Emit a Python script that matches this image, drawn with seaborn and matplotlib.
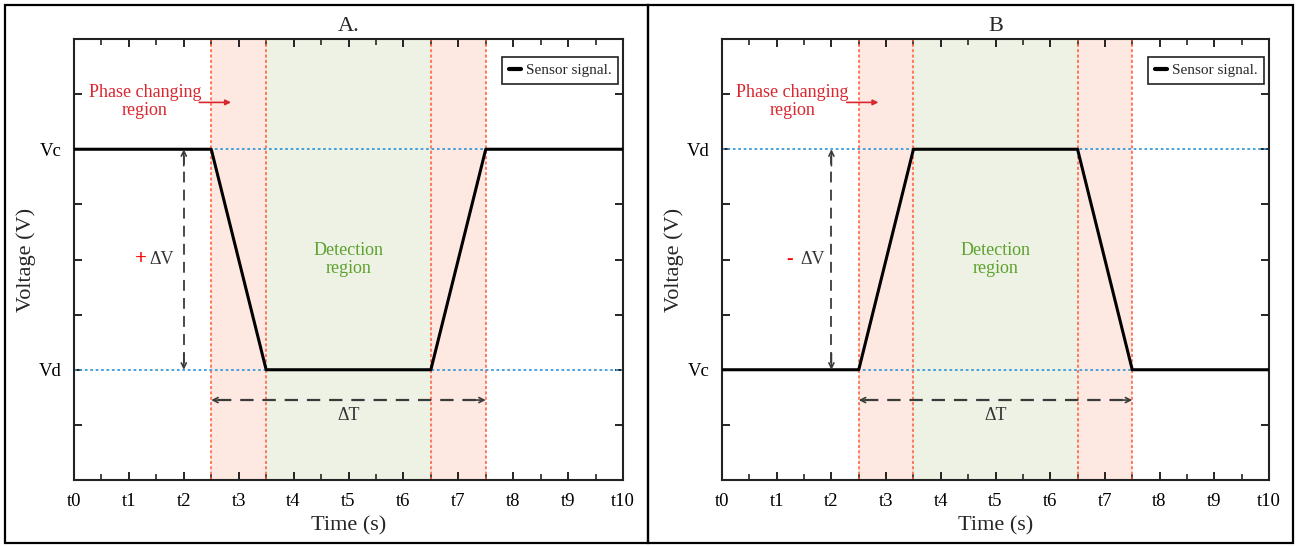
import numpy as np
import pandas as pd
import seaborn as sns
import matplotlib
matplotlib.use("Agg")
import matplotlib.pyplot as plt
from matplotlib.patches import Rectangle

# ---------------- data ----------------
time_pts = [0, 2.5, 3.5, 6.5, 7.5, 10]
voltage_A = [6, 6, 2, 2, 6, 6]
voltage_B = [2, 2, 6, 6, 2, 2]
x_tick_labels = ["t0", "t1", "t2", "t3", "t4", "t5", "t6", "t7", "t8", "t9", "t10"]
y_tick_labels_A = ["", "Vd", "", "", "", "Vc", ""]
y_tick_labels_B = ["", "Vc", "", "", "", "Vd", ""]
phase_regions = [(2.5, 3.5), (6.5, 7.5)]
detect_region = (3.5, 6.5)
v_high, v_low = 6, 2
titles = ["A.", "B"]
sign_labels = ["+", "-"]

sns.set_theme(style="white")
plt.rcParams["font.family"] = ["Liberation Serif", "DejaVu Serif"]

fig = plt.figure(figsize=(12.98, 5.46), dpi=100)
W, H = 1298, 546

# panel frames
for (x0, x1) in [(5, 648), (648, 1293)]:
    fig.patches.append(Rectangle((x0 / W, 1 - 543 / H), (x1 - x0) / W, (543 - 5) / H,
                                 transform=fig.transFigure, fill=False,
                                 edgecolor="black", linewidth=1.6, zorder=0))

axes_px = [(74, 623), (722, 1269)]
top_px, bot_px = 39, 480

red_fill = "#fde9e2"
green_fill = "#edf2e5"
red_line = "#ff5a36"
blue_dot = "#3b9bdc"
txt_red = "#d9262f"
txt_green = "#5da12f"
dash_col = "#3a3a3a"

for i, (l, r) in enumerate(axes_px):
    ax = fig.add_axes([l / W, 1 - bot_px / H, (r - l) / W, (bot_px - top_px) / H])
    volts = voltage_A if i == 0 else voltage_B
    df = pd.DataFrame({"Time": time_pts, "Voltage": volts})

    # shaded regions
    for (a, b) in phase_regions:
        ax.axvspan(a, b, color=red_fill, lw=0, zorder=0)
    ax.axvspan(detect_region[0], detect_region[1], color=green_fill, lw=0, zorder=0)
    for xv in [2.5, 3.5, 6.5, 7.5]:
        ax.axvline(xv, color=red_line, lw=1.1, ls=(0, (2, 1.5)), zorder=1)

    # reference dotted lines
    ax.axhline(v_high, color=blue_dot, lw=1.3, ls=(0, (1.5, 1.5)), zorder=1)
    ax.axhline(v_low, color=blue_dot, lw=1.3, ls=(0, (1.5, 1.5)), zorder=1)

    sns.lineplot(data=df, x="Time", y="Voltage", ax=ax, color="black", lw=2.2,
                 label="Sensor signal.", zorder=3, sort=False)

    ax.set_xlim(0, 10)
    ax.set_ylim(0, 8)
    ax.set_xticks(range(11))
    ax.set_xticklabels(x_tick_labels)
    ax.set_xticks(np.arange(0.5, 10, 1), minor=True)
    ax.set_yticks(range(1, 8))
    ax.set_yticklabels(y_tick_labels_A if i == 0 else y_tick_labels_B)
    ax.tick_params(axis="both", which="major", direction="in", length=6, width=1.2,
                   top=True, right=True, bottom=True, left=True,
                   labelsize=13.5, pad=9, colors="black")
    ax.tick_params(axis="x", which="minor", direction="in", length=4, width=1.2,
                   top=True, bottom=True)
    for s in ax.spines.values():
        s.set_color("#222222")
        s.set_linewidth(1.5)
    ax.set_xlabel("Time (s)", fontsize=16, labelpad=5)
    ax.set_ylabel("Voltage (V)", fontsize=16, labelpad=2)
    ax.set_title(titles[i], fontsize=16, pad=6)

    # phase changing annotation
    ax.text(1.29, 6.87, "Phase changing\nregion", color=txt_red, fontsize=13,
            ha="center", va="center", linespacing=1.05)
    ax.annotate("", xy=(2.86, 6.85), xytext=(2.28, 6.85),
                arrowprops=dict(arrowstyle="-|>", color=txt_red, lw=1.2,
                                mutation_scale=8, shrinkA=0, shrinkB=0))

    # detection region
    ax.text(5, 4.0, "Detection\nregion", color=txt_green, fontsize=13,
            ha="center", va="center", linespacing=1.05)

    # delta V arrow
    ax.plot([2, 2], [v_low + 0.12, v_high - 0.12], color=dash_col, lw=1.3,
            ls=(0, (6, 4)), zorder=2)
    ax.annotate("", xy=(2, v_high), xytext=(2, v_high - 0.3),
                arrowprops=dict(arrowstyle="->", color=dash_col, lw=1.2,
                                mutation_scale=9, shrinkA=0, shrinkB=0))
    ax.annotate("", xy=(2, v_low), xytext=(2, v_low + 0.3),
                arrowprops=dict(arrowstyle="->", color=dash_col, lw=1.2,
                                mutation_scale=9, shrinkA=0, shrinkB=0))
    ax.text(1.6 if i == 0 else 1.66, 4.0, "ΔV", color="#333333", fontsize=13,
            ha="center", va="center")
    ax.text(1.22 if i == 0 else 1.24, 4.0, sign_labels[i], color="red",
            fontsize=15 if i == 0 else 14, fontweight="bold", ha="center", va="center")

    # delta T arrow
    ax.plot([2.62, 7.38], [1.45, 1.45], color=dash_col, lw=1.6, ls=(0, (6, 4)), zorder=2)
    ax.annotate("", xy=(2.5, 1.45), xytext=(2.8, 1.45),
                arrowprops=dict(arrowstyle="->", color=dash_col, lw=1.2,
                                mutation_scale=9, shrinkA=0, shrinkB=0))
    ax.annotate("", xy=(7.5, 1.45), xytext=(7.2, 1.45),
                arrowprops=dict(arrowstyle="->", color=dash_col, lw=1.2,
                                mutation_scale=9, shrinkA=0, shrinkB=0))
    ax.text(5, 1.17, "ΔT", color="#333333", fontsize=13, ha="center", va="center")

    leg = ax.legend(loc="upper right", bbox_to_anchor=(0.991, 0.96), fontsize=11,
                    handlelength=0.8, handletextpad=0.3, borderpad=0.45,
                    fancybox=False, framealpha=1, borderaxespad=0)
    leg.get_frame().set_edgecolor("#222222")
    leg.get_frame().set_linewidth(1.2)
    for h in leg.get_lines():
        h.set_linewidth(3)

fig.savefig("out.png", dpi=100)
